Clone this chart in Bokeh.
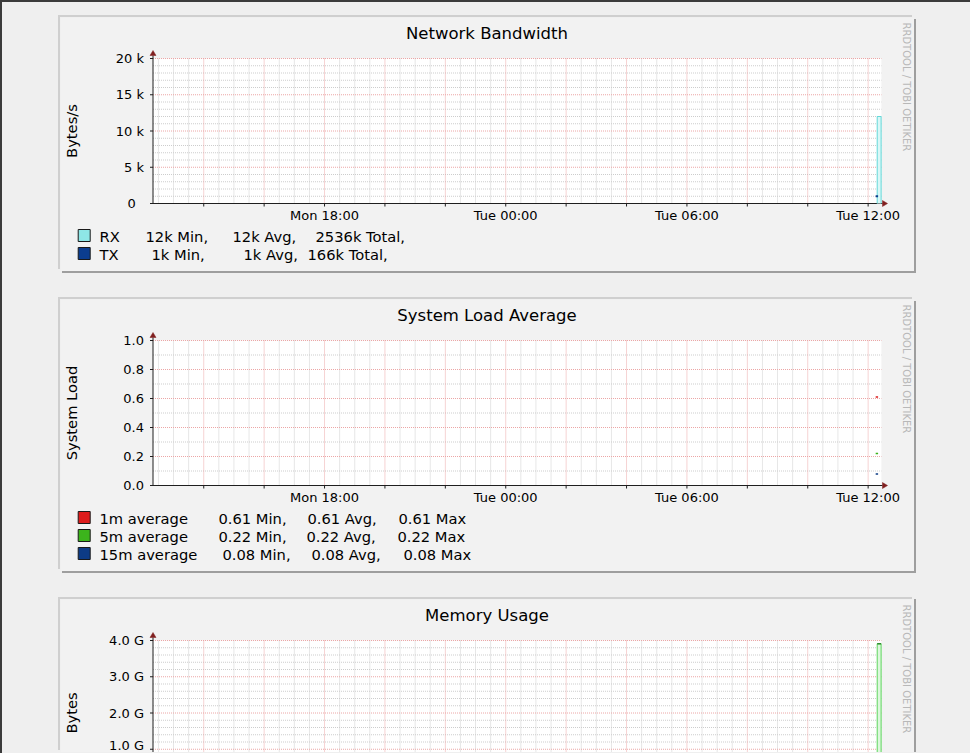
import math
import numpy as np
from bokeh.plotting import figure
from bokeh.models import (Range1d, FixedTicker, Label, BoxAnnotation, GlobalInlineStyleSheet)
from bokeh.layouts import column
from bokeh.embed import file_html
from bokeh.resources import INLINE

FONT = "DejaVu Sans"

# ------------------------------------------------------------------ data
# time axis in hours counted from Monday 00:00
view_start_h = 12.32
view_end_h = 36.44
x_tick_hours = [18, 24, 30, 36]
x_tick_labels = ["Mon 18:00", "Tue 00:00", "Tue 06:00", "Tue 12:00"]

# Network Bandwidth (Bytes/s)
net_y_ticks = [0, 5000, 10000, 15000, 20000]
net_y_labels = ["0\u00a0\u00a0", "5 k", "10 k", "15 k", "20 k"]
rx_hours = [36.30, 36.43]
rx_values = [12000, 12000]
tx_hours = [36.25, 36.33]
tx_values = [1000, 1000]
net_names = ["RX", "TX"]
net_min_k = [12, 1]
net_avg_k = [12, 1]
net_total_k = [2536, 166]

# System Load Average
load_y_ticks = [0.0, 0.2, 0.4, 0.6, 0.8, 1.0]
load_y_labels = ["0.0", "0.2", "0.4", "0.6", "0.8", "1.0"]
load_hours = [36.25, 36.33]
load_1m = [0.61, 0.61]
load_5m = [0.22, 0.22]
load_15m = [0.08, 0.08]
load_names = ["1m average", "5m average", "15m average"]
load_min = [0.61, 0.22, 0.08]
load_avg = [0.61, 0.22, 0.08]
load_max = [0.61, 0.22, 0.08]

# Memory Usage (Bytes)
mem_y_ticks = [0, 1000000000, 2000000000, 3000000000, 4000000000]
mem_y_labels = ["0.0", "1.0 G", "2.0 G", "3.0 G", "4.0 G"]
mem_hours = [36.30, 36.43]
mem_values = [3.91e9, 3.91e9]

# ------------------------------------------------------------------ styling / layout
C_RX, C_TX = "#8ee6e6", "#0b3d8f"
C_1M, C_5M, C_15M = "#dd1c1c", "#3cb41c", "#0d3b85"
C_MEM = "#5ed65e"
MINOR_C, MAJOR_C = "#cdcdcd", "#eca6a6"
AXIS_C, ARROW_C = "#1f1f1f", "#801f1f"
BOX_BG, PAGE_BG = "#f2f2f2", "#efefef"

CANVAS_W = 854
CANVAS_X0 = 60          # absolute x of every canvas
AXIS_X = 92.5           # y axis position (canvas px)
GRID_TOP, ZERO_Y = 41, 186
PPH = 30.2              # px per hour
LEG_FS = "14.7px"


def make_graph(height, top_value, minor_step, major_every, y_ticks, y_labels,
               title, ylabel, with_xaxis):
    ppu = (ZERO_Y - GRID_TOP) / top_value
    hx, hy = 1.0 / PPH, 1.0 / ppu

    def t_of(rel):
        return view_start_h + (rel - AXIS_X) / PPH

    def v_of(rel):
        return (ZERO_Y - rel) / ppu

    p = figure(width=CANVAS_W, height=height,
               x_range=Range1d(t_of(0), t_of(CANVAS_W)),
               y_range=Range1d(v_of(height), v_of(0)),
               output_backend="svg", toolbar_location=None, tools="",
               min_border=0, min_border_left=0, min_border_right=0,
               min_border_top=0, min_border_bottom=0,
               x_axis_location="below" if with_xaxis else None,
               background_fill_color=BOX_BG, border_fill_color=BOX_BG,
               outline_line_color=None)
    for g in list(p.center):
        g.visible = False

    # y axis (labels only; line/ticks drawn as glyphs)
    ya = p.yaxis[0]
    ya.fixed_location = view_start_h
    ya.ticker = FixedTicker(ticks=y_ticks)
    ya.major_label_overrides = dict(zip(y_ticks, y_labels))
    ya.axis_line_color = None
    ya.major_tick_line_color = None
    ya.minor_tick_line_color = None
    ya.major_tick_out = 0
    ya.major_tick_in = 0
    ya.major_label_standoff = 9
    ya.major_label_text_font = FONT
    ya.major_label_text_font_size = "13px"
    ya.major_label_text_color = "#000000"
    if with_xaxis:
        xa = p.xaxis[0]
        xa.fixed_location = 0
        xa.ticker = FixedTicker(ticks=x_tick_hours)
        xa.major_label_overrides = dict(zip(x_tick_hours, x_tick_labels))
        xa.axis_line_color = None
        xa.major_tick_line_color = None
        xa.minor_tick_line_color = None
        xa.major_tick_out = 0
        xa.major_tick_in = 0
        xa.major_label_standoff = 4
        xa.major_label_text_font = FONT
        xa.major_label_text_font_size = "13px"
        xa.major_label_text_color = "#000000"

    # white canvas of the graph
    p.add_layout(BoxAnnotation(left=view_start_h, right=view_end_h, bottom=0, top=top_value,
                               fill_color="#ffffff", fill_alpha=1, line_color=None,
                               level="underlay"))

    # grid
    marks = np.arange(math.ceil(view_start_h * 2) / 2, view_end_h, 0.5)
    vmaj = [m for m in marks if abs(m / 2 - round(m / 2)) < 1e-9]
    vmin = [m for m in marks if abs(m / 2 - round(m / 2)) >= 1e-9]
    n = int(round(top_value / minor_step))
    ks = list(range(1, n + 1))
    hmaj = [k * minor_step for k in ks if k % major_every == 0]
    hmin = [k * minor_step for k in ks if k % major_every != 0]
    for vv, hh, col in ((vmin, hmin, MINOR_C), (vmaj, hmaj, MAJOR_C)):
        p.segment(x0=vv, x1=vv, y0=[0] * len(vv), y1=[top_value] * len(vv),
                  line_color=col, line_width=1, line_dash="1 1")
        p.segment(x0=[view_start_h] * len(hh), x1=[view_end_h] * len(hh), y0=hh, y1=hh,
                  line_color=col, line_width=1, line_dash="1 1")

    # axes, ticks and arrows
    p.segment(x0=[view_start_h, view_start_h], y0=[0, 0],
              x1=[view_start_h, t_of(822)], y1=[v_of(38), 0],
              line_color=AXIS_C, line_width=1)
    yt = [v for v in y_ticks if 0 <= v <= top_value]
    p.segment(x0=[view_start_h - 3 * hx] * len(yt), x1=[view_start_h] * len(yt), y0=yt, y1=yt,
              line_color=AXIS_C, line_width=1)
    p.segment(x0=vmaj, x1=vmaj, y0=[0] * len(vmaj), y1=[-3 * hy] * len(vmaj),
              line_color=AXIS_C, line_width=1)
    s = view_start_h
    p.patches(xs=[[s - 3 * hx, s + 3 * hx, s], [t_of(822), t_of(822), t_of(827)]],
              ys=[[v_of(38), v_of(38), v_of(33)], [3 * hy, -3 * hy, 0]],
              fill_color=ARROW_C, line_color=ARROW_C, line_width=0.5)

    def lab(xc, yc, text, **kw):
        d = dict(x=xc, y=height - yc, x_units="screen", y_units="screen", text=text,
                 text_font=FONT, text_color="#000000", text_baseline="middle")
        d.update(kw)
        p.add_layout(Label(**d))

    lab(486.5 - CANVAS_X0, 16, title, text_align="center", text_font_size="16.5px")
    lab(71 - CANVAS_X0, (GRID_TOP + ZERO_Y) / 2, ylabel, text_align="center",
        text_font_size=LEG_FS, angle=math.pi / 2)
    lab(905.7 - CANVAS_X0, 5, "RRDTOOL / TOBI OETIKER", text_align="left",
        text_font_size="10px", text_color="#b8b8b8", angle=-math.pi / 2)

    def legend(names, colors):
        n_ = len(names)
        p.rect(x=[t_of(83.7 - CANVAS_X0)] * n_, y=[v_of(218 + 18 * i) for i in range(n_)],
               width=12, height=12, width_units="screen", height_units="screen",
               fill_color=colors, line_color="#1a1a1a", line_width=1)
        for i, nm in enumerate(names):
            lab(99 - CANVAS_X0, 219 + 18 * i, nm, text_align="left", text_font_size=LEG_FS)

    return p, lab, legend


# ---------------- graph 1: network
H1 = 254
p1, lab1, leg1 = make_graph(H1, 20000, 1000, 5, net_y_ticks, net_y_labels,
                            "Network Bandwidth", "Bytes/s", True)
rx_x = [rx_hours[0]] + rx_hours + [rx_hours[-1]]
rx_y = [0] + rx_values + [0]
p1.varea(x=rx_hours, y1=[0] * len(rx_hours), y2=rx_values, fill_color="#d9f7f7")
p1.line(x=rx_x, y=rx_y, line_color="#62d8d8", line_width=1)
p1.line(x=tx_hours, y=tx_values, line_color=C_TX, line_width=2)
leg1(net_names, [C_RX, C_TX])
net_cols = [[145, 232, 315], [151, 243, 307]]
for i in range(2):
    texts = [f"{net_min_k[i]}k Min,", f"{net_avg_k[i]}k Avg,", f"{net_total_k[i]}k Total,"]
    for xa_, tx_ in zip(net_cols[i], texts):
        lab1(xa_ - CANVAS_X0, 219 + 18 * i, tx_, text_align="left", text_font_size=LEG_FS)

# ---------------- graph 2: load
H2 = 272
p2, lab2, leg2 = make_graph(H2, 1.0, 0.1, 2, load_y_ticks, load_y_labels,
                            "System Load Average", "System Load", True)
for vals, c in ((load_1m, C_1M), (load_5m, C_5M), (load_15m, C_15M)):
    p2.line(x=load_hours, y=vals, line_color=c, line_width=1.5)
leg2(load_names, [C_1M, C_5M, C_15M])
load_cols = [[218, 307, 398], [218, 306, 397], [222, 311, 403]]
for i in range(3):
    texts = [f"{load_min[i]:.2f} Min,", f"{load_avg[i]:.2f} Avg,", f"{load_max[i]:.2f} Max"]
    for xa_, tx_ in zip(load_cols[i], texts):
        lab2(xa_ - CANVAS_X0, 219 + 18 * i, tx_, text_align="left", text_font_size=LEG_FS)

# ---------------- graph 3: memory (cut by the window)
H3 = 153
p3, lab3, leg3 = make_graph(H3, 4e9, 0.2e9, 5, mem_y_ticks, mem_y_labels,
                            "Memory Usage", "Bytes", False)
mem_x = [mem_hours[0]] + mem_hours + [mem_hours[-1]]
mem_y = [0] + mem_values + [0]
p3.varea(x=mem_hours, y1=[0] * len(mem_hours), y2=mem_values, fill_color="#dcf7dc")
p3.line(x=mem_x, y=mem_y, line_color=C_MEM, line_width=1)
p3.line(x=mem_hours, y=mem_values, line_color="#2e8b2e", line_width=1.5)

SH = "-2px -2px 0 0 #cfcfcf, 2px 2px 0 0 #9e9e9e"
p1.styles = {"box-shadow": SH}
p2.styles = {"box-shadow": SH}
p3.styles = {"box-shadow": "-2px -2px 0 0 #cfcfcf, 2px 0 0 0 #9e9e9e"}
p1.margin = (17, 0, 0, 60)
p2.margin = (28, 0, 0, 60)
p3.margin = (28, 0, 0, 60)

gss = GlobalInlineStyleSheet(css=(
    f"html {{ background-color: {PAGE_BG}; }} "
    f"body {{ background-color: {PAGE_BG}; box-shadow: inset 2px 2px 0 0 #3b3b3b; }}"))
layout = column(p1, p2, p3, spacing=0, stylesheets=[gss])

open("out.html", "w").write(file_html(layout, INLINE))
